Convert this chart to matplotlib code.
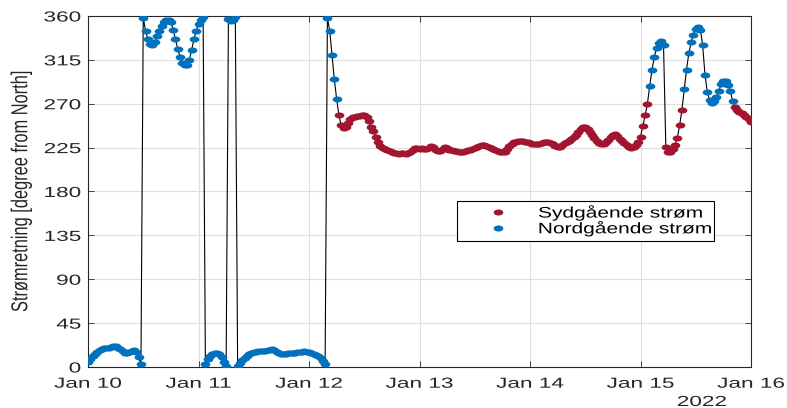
import numpy as np
import matplotlib
matplotlib.use('Agg')
import matplotlib.pyplot as plt
from matplotlib.lines import Line2D
from matplotlib.path import Path
from matplotlib.patheffects import AbstractPathEffect
from matplotlib.transforms import Affine2D

plt.rcParams['font.family'] = ['Liberation Sans', 'DejaVu Sans']

# current direction [deg from north], one value every 30 min from 2022-01-10 00:00
dir_jan10 = [5, 8, 11, 13, 15, 17, 18, 19, 20, 20, 21, 22,
             22, 20, 18, 16, 14, 14, 15, 16, 17, 15, 10, 3,
             358, 345, 336, 331, 330, 333, 339, 345, 350, 354, 356, 356,
             354, 346, 336, 326, 318, 312, 310, 310, 315, 325, 336, 345]
dir_jan11 = [352, 356, 359, 3, 8, 11, 13, 14, 14, 13, 10, 5,
             1, 357, 355, 356, 359, 1, 4, 7, 9, 11, 13, 14,
             15, 15, 16, 16, 16, 16, 17, 17, 18, 17, 15, 14,
             13, 13, 13, 14, 14, 14, 14, 15, 15, 15, 16, 15]
dir_jan12 = [15, 14, 13, 12, 11, 9, 6, 3,
             358, 345, 320, 295, 275, 258, 248, 245, 246, 250, 254, 256,
             256, 257, 257, 258, 258, 256, 252, 246, 242, 236, 231, 227,
             225, 224, 223, 222, 220, 219, 219, 218, 219, 219, 218, 219,
             221, 223, 225, 225]
dir_jan13 = [224, 225, 224, 224, 225, 227, 226, 223, 222, 222, 224, 226,
             225, 223, 223, 222, 222, 221, 220, 221, 222, 223, 223, 224,
             225, 226, 227, 228, 228, 227, 226, 225, 224, 223, 222, 221,
             220, 221, 224, 227, 229, 231, 231, 232, 232, 232, 231, 231]
dir_jan14 = [230, 229, 229, 229, 229, 230, 231, 231, 231, 230, 229, 227,
             226, 226, 228, 230, 231, 232, 234, 236, 238, 241, 244, 246,
             246, 244, 241, 238, 235, 232, 230, 229, 229, 231, 233, 236,
             238, 239, 237, 234, 232, 230, 228, 226, 225, 226, 228, 231]
dir_jan15 = [236, 247, 258, 270, 288, 305, 318, 327, 332, 334, 330, 226,
             221, 221, 224, 228, 235, 248, 264, 285, 305, 322, 333, 341,
             347, 349, 346, 330, 300, 282, 274, 271, 273, 277, 283, 290,
             293, 293, 289, 283, 273, 267, 264, 262, 260, 258, 256, 254]
dir_end = [251]

start_time = np.datetime64('2022-01-10T00:00')
step = np.timedelta64(30, 'm')

day_ticks = ['2022-01-10', '2022-01-11', '2022-01-12', '2022-01-13',
             '2022-01-14', '2022-01-15', '2022-01-16']
day_labels = ['Jan 10', 'Jan 11', 'Jan 12', 'Jan 13', 'Jan 14', 'Jan 15', 'Jan 16']
year_label = '2022'
deg_ticks = [0, 45, 90, 135, 180, 225, 270, 315, 360]

legend_labels = ['Sydgående strøm', 'Nordgående strøm']
south_color = '#A2142F'
north_color = '#0072BD'
ink = '#262626'


class Stretch(AbstractPathEffect):
    """Draw text as a path, scaled along its own x/y about the ink box."""

    def __init__(self, sx=1.0, sy=1.0, anchor='center'):
        super().__init__()
        self.sx, self.sy, self.anchor = sx, sy, anchor

    def draw_path(self, renderer, gc, tpath, affine, rgbFace=None):
        ext = tpath.get_extents()
        if self.anchor == 'right':
            cx = ext.x1
        elif self.anchor == 'left':
            cx = ext.x0
        else:
            cx = 0.5 * (ext.x0 + ext.x1)
        cy = 0.5 * (ext.y0 + ext.y1)
        t = Affine2D().translate(-cx, -cy).scale(self.sx, self.sy).translate(cx, cy) + affine
        renderer.draw_path(gc, tpath, t, rgbFace)


direction = np.array(dir_jan10 + dir_jan11 + dir_jan12 + dir_jan13
                     + dir_jan14 + dir_jan15 + dir_end, dtype=float)
time = start_time + np.arange(len(direction)) * step
south = (direction >= 90) & (direction <= 270)
north = ~south

# flat dot, as the plot is stretched sideways
dot = Path.unit_circle().transformed(Affine2D().scale(1.6, 1.0))
dot_size = 7

fig = plt.figure(figsize=(7.87, 4.08), dpi=100)
ax = fig.add_axes([88 / 787, 41 / 408, 663 / 787, 351 / 408])

ax.plot(time, direction, color='k', lw=0.8, zorder=2)
ax.plot(time[south], direction[south], ls='none', marker=dot, ms=dot_size,
        mfc=south_color, mec='none', zorder=3)
ax.plot(time[north], direction[north], ls='none', marker=dot, ms=dot_size,
        mfc=north_color, mec='none', zorder=3)

ax.set_xlim(np.datetime64(day_ticks[0]), np.datetime64(day_ticks[-1]))
ax.set_ylim(0, 360)
ax.set_xticks(np.array(day_ticks, dtype='datetime64[D]'))
ax.set_xticklabels(day_labels)
ax.set_yticks(deg_ticks)
ax.set_yticklabels([str(v) for v in deg_ticks])

ax.grid(True, color='#dedede', lw=0.8)
ax.set_axisbelow(True)
ax.tick_params(direction='in', length=4, width=0.6, colors=ink,
               top=True, right=True, labelsize=10.5)
ax.tick_params(axis='x', pad=7)
ax.tick_params(axis='y', pad=5)
for sp in ax.spines.values():
    sp.set_color(ink)
    sp.set_linewidth(0.8)

for lab in ax.get_xticklabels():
    lab.set_path_effects([Stretch(1.55, 1.0, 'center')])
for lab in ax.get_yticklabels():
    lab.set_path_effects([Stretch(1.55, 1.0, 'right')])

ylab = ax.set_ylabel('Strømretning [degree from North]', fontsize=11.8,
                     color=ink, va='center')
ax.yaxis.set_label_coords(-0.101, 0.5)
ylab.set_path_effects([Stretch(1.0, 1.4, 'center')])

yr = fig.text(702 / 787, 1 - 402 / 408, year_label, ha='center', va='center',
              fontsize=10.5, color=ink)
yr.set_path_effects([Stretch(1.55, 1.0, 'center')])

handles = [Line2D([], [], ls='none', marker=dot, ms=dot_size, mfc=south_color, mec='none'),
           Line2D([], [], ls='none', marker=dot, ms=dot_size, mfc=north_color, mec='none')]
leg = ax.legend(handles, legend_labels, loc='upper left',
                bbox_to_anchor=(0.557, 0.359, 0.387, 0.114), mode='expand',
                borderaxespad=0, fontsize=11, borderpad=0.3, labelspacing=0.05,
                handlelength=4.7, handletextpad=0.3, numpoints=1,
                fancybox=False, framealpha=1, edgecolor='k')
leg.get_frame().set_linewidth(0.8)
for txt in leg.get_texts():
    txt.set_color('k')
    txt.set_path_effects([Stretch(1.37, 1.0, 'left')])

fig.savefig('out.png', dpi=100)
